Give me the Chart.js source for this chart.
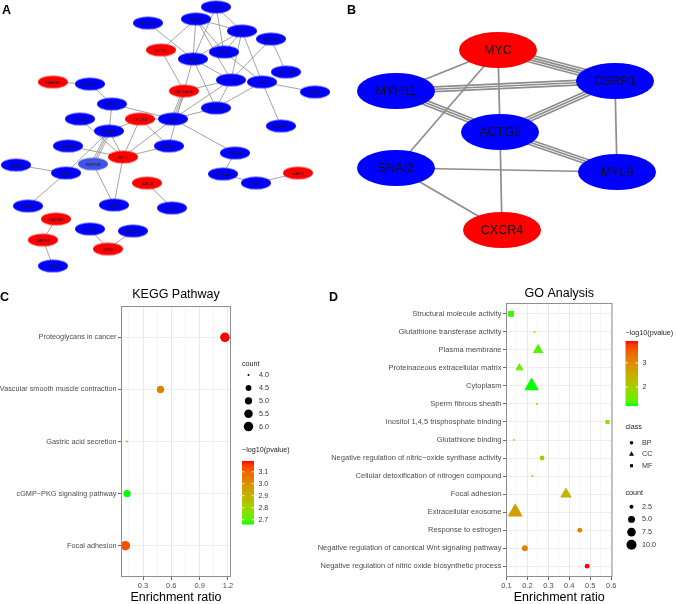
<!DOCTYPE html>
<html>
<head>
<meta charset="utf-8">
<script src="https://cdn.jsdelivr.net/npm/chart.js@4.4.1/dist/chart.umd.min.js"></script>
<style>
  html, body { margin: 0; padding: 0; background: #fff; }
  body { position: relative; width: 676px; height: 604px; overflow: hidden; font-family: "Liberation Sans", Arial, sans-serif; }
  canvas { position: absolute; }
  .tag { position: absolute; font-weight: bold; font-size: 12.5px; line-height: 1; color: #000; }
</style>
</head>
<body>
<canvas id="netA" width="340" height="285" style="left:0;top:0"></canvas>
<canvas id="netB" width="336" height="285" style="left:340px;top:0"></canvas>
<canvas id="kegg" width="340" height="319" style="left:0;top:285px"></canvas>
<canvas id="go" width="376" height="319" style="left:300px;top:285px"></canvas>
<div class="tag" style="left:2px;top:4px">A</div>
<div class="tag" style="left:347px;top:4px">B</div>
<div class="tag" style="left:0;top:291px">C</div>
<div class="tag" style="left:329px;top:291px">D</div>
<script>
// ---------- data ----------
// panel A: PPI network (layout units)
const netANames = ['CSRP1','ACTG2','SPOCK3','MYL9','ATP2B4','MYOC','MYH11','MYLK','ATP1A2','ITPR1',
  'FLNC','FHL1','BAMBI','TGFBR3','CACNA1D','GPC3','PRKCA','TNS1','CXCR4','CAV1',
  'HSPB6','SNAI2','GSTM3','NCAM1','MYC','PTGIS','LAMB3','WNT5B','KRT14','PPP1R3C',
  'UAP1','AGL','MAOA','KRT15','DKK3','AOC3','CADM1','PCP4','GPRC5B','DAPK1','SIM2','RPRM'];
const netAX = [216,196,148,242,271,161,224,193,286,231,262,315,53,90,184,112,216,80,140,173,
  281,109,68,169,123,235,16,93,66,223,298,256,147,28,114,172,56,90,133,43,108,53];
const netAY = [7,19,23,31,39,50,52,59,72,80,82,92,82,84,91,104,108,119,119,119,
  126,131,146,146,157,153,165,164,173,174,173,183,183,206,205,208,219,229,231,240,249,266];
const netARed = ['MYOC','BAMBI','CACNA1D','CXCR4','MYC','MAOA','UAP1','CADM1','DAPK1','SIM2'];
const netALight = ['WNT5B'];
const netAEdges = [
  ['SPOCK3','MYLK'],['ACTG2','MYOC'],['ACTG2','MYLK'],['ACTG2','MYH11'],['ACTG2','MYL9'],['ACTG2','ITPR1'],
  ['CSRP1','MYL9'],['CSRP1','MYH11'],['CSRP1','MYLK'],['MYL9','MYLK'],['MYL9','MYH11'],['MYL9','FLNC'],
  ['MYL9','ITPR1'],['ATP2B4','ITPR1'],['ATP2B4','ATP1A2'],['MYH11','FLNC'],['MYLK','ITPR1'],['MYLK','PRKCA'],
  ['MYLK','CACNA1D'],['MYOC','CACNA1D'],['ITPR1','CACNA1D'],['ITPR1','PRKCA'],['ITPR1','CAV1'],['FLNC','FHL1'],
  ['FLNC','HSPB6'],['FLNC','PRKCA'],['CACNA1D','CAV1',3],['CACNA1D','NCAM1'],['CAV1','PRKCA'],['CAV1','CXCR4'],
  ['CAV1','GPC3'],['CAV1','MYC'],['CAV1','PTGIS'],['BAMBI','TGFBR3'],['TGFBR3','GPC3'],['GPC3','SNAI2'],
  ['TNS1','MYC'],['SNAI2','CXCR4'],['SNAI2','MYC'],['SNAI2','WNT5B',3],['SNAI2','KRT14'],['CXCR4','NCAM1'],
  ['CXCR4','MYC'],['GSTM3','MYC'],['MYC','NCAM1'],['MYC','DKK3'],['LAMB3','KRT14'],['KRT14','KRT15'],
  ['WNT5B','DKK3'],['PTGIS','PPP1R3C'],['PPP1R3C','AGL'],['AGL','UAP1'],['MAOA','AOC3'],['CADM1','DAPK1'],
  ['DAPK1','RPRM'],['PCP4','SIM2'],['GPRC5B','SIM2']];

// panel B: hub genes
const netBNames = ['MYC','MYH11','CSRP1','ACTG2','SNAI2','MYL9','CXCR4'];
const netBX = [498,396,615,500,396,617,502];
const netBY = [50,91,81,132,168,172,230];
const netBRed = ['MYC','CXCR4'];
const netBEdges = [['MYC','CSRP1',4],['MYH11','CSRP1',3],['MYH11','MYC'],['MYC','ACTG2'],['MYC','SNAI2'],
  ['MYH11','ACTG2',3],['ACTG2','CSRP1',3],['CSRP1','MYL9'],['ACTG2','MYL9',3],['SNAI2','MYL9'],
  ['SNAI2','CXCR4'],['ACTG2','CXCR4']];

// panel C: KEGG
const keggTerms = ['Proteoglycans in cancer','Vascular smooth muscle contraction','Gastric acid secretion',
  'cGMP\u2212PKG signaling pathway','Focal adhesion'];
const keggRatio = [1.168, 0.485, 0.131, 0.131, 0.113];
const keggCount = [6, 5, 4, 5, 6];
const keggLogP = [3.19, 3.04, 2.7, 2.66, 3.13];
const keggXTicks = [0.3, 0.6, 0.9, 1.2];
const keggCountBreaks = [4.0, 4.5, 5.0, 5.5, 6.0];
const keggColorBreaks = [2.7, 2.8, 2.9, 3.0, 3.1];

// panel D: GO
const goTerms = ['Structural molecule activity','Glutathione transferase activity','Plasma membrane',
  'Proteinaceous extracellular matrix','Cytoplasm','Sperm fibrous sheath','Inositol 1,4,5 trisphosphate binding',
  'Glutathione binding','Negative regulation of nitric\u2212oxide synthase activity',
  'Cellular detoxification of nitrogen compound','Focal adhesion','Extracellular exosome','Response to estrogen',
  'Negative regulation of canonical Wnt signaling pathway','Negative regulation of nitric oxide biosynthetic process'];
const goClass = ['MF','MF','CC','CC','CC','CC','MF','MF','BP','BP','CC','CC','BP','BP','BP'];
const goRatio = [0.122,0.234,0.251,0.162,0.22,0.246,0.582,0.136,0.27,0.224,0.384,0.142,0.45,0.188,0.485];
const goCount = [5,2,6,4,11,2,3,2,3,2,7,12,3,4,3];
const goLogP = [1.3,1.85,1.4,1.5,1.22,2.0,1.75,2.05,2.15,2.2,2.45,2.75,3.15,3.05,3.9];
const goXTicks = [0.1, 0.2, 0.3, 0.4, 0.5, 0.6];
const goCountBreaks = [2.5, 5.0, 7.5, 10.0];
const goColorBreaks = [2, 3];
const classNames = ['BP','CC','MF'];

// ---------- helpers ----------
Chart.defaults.font.family = '"Liberation Sans", Arial, Helvetica, sans-serif';
Chart.defaults.color = '#4d4d4d';
const FONT = '"Liberation Sans", Arial, sans-serif';

// green -> red in CIELAB like ggplot's scale_colour_gradient
function toLab(c) {
  const [r, g, b] = c.map(v => { v /= 255; return v <= 0.04045 ? v / 12.92 : Math.pow((v + 0.055) / 1.055, 2.4); });
  const X = (0.4124564 * r + 0.3575761 * g + 0.1804375 * b) / 0.95047;
  const Y = 0.2126729 * r + 0.7151522 * g + 0.0721750 * b;
  const Z = (0.0193339 * r + 0.1191920 * g + 0.9503041 * b) / 1.08883;
  const f = t => t > 216 / 24389 ? Math.cbrt(t) : (24389 / 27 * t + 16) / 116;
  return [116 * f(Y) - 16, 500 * (f(X) - f(Y)), 200 * (f(Y) - f(Z))];
}
function fromLab([L, a, b]) {
  const fy = (L + 16) / 116, fx = fy + a / 500, fz = fy - b / 200;
  const fi = t => t * t * t > 216 / 24389 ? t * t * t : (116 * t - 16) / (24389 / 27);
  const X = fi(fx) * 0.95047, Y = fi(fy), Z = fi(fz) * 1.08883;
  return [3.2404542 * X - 1.5371385 * Y - 0.4985314 * Z,
    -0.9692660 * X + 1.8760108 * Y + 0.0415560 * Z,
    0.0556434 * X - 0.2040259 * Y + 1.0572252 * Z].map(v => {
      v = v <= 0.0031308 ? 12.92 * v : 1.055 * Math.pow(v, 1 / 2.4) - 0.055;
      return Math.round(Math.min(1, Math.max(0, v)) * 255);
    });
}
const LOW = toLab([0, 255, 0]), HIGH = toLab([255, 0, 0]);
function ramp(t) {
  t = Math.min(1, Math.max(0, t));
  const c = fromLab(LOW.map((v, i) => v + (HIGH[i] - v) * t));
  return 'rgb(' + c.join(',') + ')';
}

function ellipseImg(rx, ry, fill) {
  const c = document.createElement('canvas');
  c.width = Math.ceil(rx * 2 + 2); c.height = Math.ceil(ry * 2 + 2);
  const g = c.getContext('2d');
  g.fillStyle = fill;
  g.beginPath();
  g.ellipse(c.width / 2, c.height / 2, rx, ry, 0, 0, Math.PI * 2);
  g.fill();
  return c;
}

function networkChart(id, names, xs, ys, edges, red, light, xr, yr, look) {
  const imgRed = ellipseImg(look.rx, look.ry, '#ff0000');
  const imgBlue = ellipseImg(look.rx, look.ry, '#0000ff');
  const imgLight = ellipseImg(look.rx, look.ry, '#4152e6');
  const edgePlugin = {
    id: 'edges',
    beforeDatasetsDraw(chart) {
      const { ctx, scales: { x, y } } = chart;
      ctx.save();
      ctx.strokeStyle = look.edgeColor;
      ctx.lineWidth = look.edgeWidth;
      edges.forEach(e => {
        const i = names.indexOf(e[0]), j = names.indexOf(e[1]), k = e[2] || 1;
        const x1 = x.getPixelForValue(xs[i]), y1 = y.getPixelForValue(ys[i]);
        const x2 = x.getPixelForValue(xs[j]), y2 = y.getPixelForValue(ys[j]);
        const len = Math.hypot(x2 - x1, y2 - y1);
        const nx = -(y2 - y1) / len, ny = (x2 - x1) / len;
        for (let m = 0; m < k; m++) {
          const off = (m - (k - 1) / 2) * look.gap;
          ctx.beginPath();
          ctx.moveTo(x1 + nx * off, y1 + ny * off);
          ctx.lineTo(x2 + nx * off, y2 + ny * off);
          ctx.stroke();
        }
      });
      ctx.restore();
    }
  };
  const labelPlugin = {
    id: 'nodeLabels',
    afterDatasetsDraw(chart) {
      const ctx = chart.ctx;
      ctx.save();
      ctx.font = look.font;
      ctx.fillStyle = look.textColor;
      ctx.textAlign = 'center';
      ctx.textBaseline = 'middle';
      chart.getDatasetMeta(0).data.forEach((pt, i) => ctx.fillText(names[i], pt.x, pt.y + 0.5));
      ctx.restore();
    }
  };
  return new Chart(document.getElementById(id), {
    type: 'scatter',
    data: {
      datasets: [{
        data: names.map((n, i) => ({ x: xs[i], y: ys[i] })),
        pointStyle: names.map(n => red.includes(n) ? imgRed : light.includes(n) ? imgLight : imgBlue),
        pointRadius: look.rx,
        pointHoverRadius: look.rx,
        clip: false
      }]
    },
    options: {
      responsive: false,
      animation: false,
      events: [],
      layout: { padding: 0, autoPadding: false },
      plugins: { legend: { display: false }, tooltip: { enabled: false } },
      scales: {
        x: { display: false, min: xr[0], max: xr[1] },
        y: { display: false, min: yr[0], max: yr[1], reverse: true }
      }
    },
    plugins: [edgePlugin, labelPlugin]
  });
}

networkChart('netA', netANames, netAX, netAY, netAEdges, netARed, netALight, [0, 340], [0, 285],
  { rx: 15, ry: 6.3, edgeColor: '#9a9a9a', edgeWidth: 0.9, gap: 1.6, font: '4.3px ' + FONT, textColor: '#1a1a1a' });
networkChart('netB', netBNames, netBX, netBY, netBEdges, netBRed, [], [340, 676], [0, 285],
  { rx: 39, ry: 18, edgeColor: '#8d8d8d', edgeWidth: 1.7, gap: 2.4, font: '12.5px ' + FONT, textColor: '#111' });

// ---------- dot plots ----------
function sizeScale(values, dmin, dmax) {
  const lo = Math.min(...values), hi = Math.max(...values);
  return v => dmin + (dmax - dmin) * Math.sqrt(Math.max(0, v - lo) / (hi - lo));
}
function colorScale(values) {
  const lo = Math.min(...values), hi = Math.max(...values);
  return { lo, hi, fn: v => ramp((v - lo) / (hi - lo)) };
}
const near = (a, list) => list.some(b => Math.abs(a - b) < 1e-6);

function drawSymbol(ctx, shape, x, y, r) {
  ctx.beginPath();
  if (shape === 'triangle') {
    for (let k = 0; k < 3; k++) {
      const a = k * 2 * Math.PI / 3;
      ctx[k ? 'lineTo' : 'moveTo'](x + Math.sin(a) * r, y - Math.cos(a) * r);
    }
    ctx.closePath();
  } else if (shape === 'rect') {
    const s = r * Math.SQRT1_2;
    ctx.rect(x - s, y - s, 2 * s, 2 * s);
  } else {
    ctx.arc(x, y, r, 0, Math.PI * 2);
  }
  ctx.fill();
}

function colorBar(ctx, x, top, w, h, cs, breaks) {
  const grad = ctx.createLinearGradient(0, top + h, 0, top);
  for (let s = 0; s <= 20; s++) grad.addColorStop(s / 20, ramp(s / 20));
  ctx.fillStyle = grad;
  ctx.fillRect(x, top, w, h);
  ctx.strokeStyle = '#fff';
  ctx.lineWidth = 0.8;
  ctx.fillStyle = '#333';
  ctx.textAlign = 'left';
  breaks.forEach(b => {
    const yy = top + h - (b - cs.lo) / (cs.hi - cs.lo) * h;
    ctx.beginPath();
    ctx.moveTo(x, yy); ctx.lineTo(x + w * 0.2, yy);
    ctx.moveTo(x + w, yy); ctx.lineTo(x + w * 0.8, yy);
    ctx.stroke();
    ctx.fillText(Number.isInteger(b) && breaks.length < 3 ? String(b) : b.toFixed(1), x + w + 4.5, yy);
  });
}

function dotPlot(id, s) {
  const n = s.terms.length;
  const minors = s.majors.slice(0, -1).map((v, i) => (v + s.majors[i + 1]) / 2);
  if (s.majors[0] - (s.majors[1] - s.majors[0]) / 2 > s.xMin) minors.unshift(s.majors[0] - (s.majors[1] - s.majors[0]) / 2);
  const xTickVals = s.majors.concat(minors).sort((a, b) => a - b);

  const framePlugin = {
    id: 'frame',
    afterDatasetsDraw(chart) {
      const { ctx, chartArea: a } = chart;
      ctx.save();
      ctx.strokeStyle = '#8f8f8f';
      ctx.lineWidth = 1;
      ctx.strokeRect(a.left + 0.5, a.top + 0.5, a.right - a.left - 1, a.bottom - a.top - 1);
      ctx.restore();
    }
  };
  const legendPlugin = {
    id: 'sideLegend',
    afterDraw(chart) {
      const ctx = chart.ctx;
      ctx.save();
      ctx.textBaseline = 'middle';
      s.legend(ctx, chart.chartArea.right);
      ctx.restore();
    }
  };

  return new Chart(document.getElementById(id), {
    type: 'scatter',
    data: {
      datasets: [{
        data: s.terms.map((t, i) => ({ x: s.ratio[i], y: i })),
        pointStyle: s.terms.map((t, i) => s.shape(i)),
        pointRadius: s.terms.map((t, i) => s.radius(i)),
        backgroundColor: s.terms.map((t, i) => s.color(i)),
        borderWidth: 0
      }]
    },
    options: {
      responsive: false,
      animation: false,
      events: [],
      layout: { padding: { left: 0, right: s.padRight, top: 0, bottom: 0 } },
      plugins: {
        legend: { display: false },
        tooltip: { enabled: false },
        title: {
          display: true, text: s.title, fullSize: false, color: '#000',
          font: { size: 12.5, weight: 'normal', lineHeight: 1.2 },
          padding: s.titlePad
        }
      },
      scales: {
        x: {
          type: 'linear', min: s.xMin, max: s.xMax,
          afterBuildTicks: sc => { sc.ticks = xTickVals.map(v => ({ value: v })); },
          afterFit: sc => { sc.height = 27; },
          ticks: {
            autoSkip: false, maxRotation: 0, padding: 1, color: '#4d4d4d', font: { size: 7.5 },
            callback: v => near(v, s.majors) ? v.toFixed(1) : ''
          },
          grid: {
            color: c => c.tick && near(c.tick.value, s.majors) ? '#e6e6e6' : '#f0f0f0',
            lineWidth: c => c.tick && near(c.tick.value, s.majors) ? 0.9 : 0.6,
            tickColor: c => c.tick && near(c.tick.value, s.majors) ? '#444' : 'rgba(0,0,0,0)',
            tickLength: 3, tickWidth: 0.8
          },
          border: { display: false },
          title: {
            display: true, text: 'Enrichment ratio', color: '#000',
            font: { size: 12.5, lineHeight: 1 }, padding: { top: 0, bottom: 0 }
          }
        },
        y: {
          type: 'linear', reverse: true, min: -0.6, max: n - 0.4,
          afterBuildTicks: sc => { sc.ticks = s.terms.map((t, i) => ({ value: i })); },
          afterFit: sc => { sc.width = s.axisWidth; },
          ticks: {
            autoSkip: false, padding: 1.5, color: '#4d4d4d', font: { size: s.labelSize },
            callback: v => s.terms[v] !== undefined ? s.terms[v] : ''
          },
          grid: { color: '#ebebeb', lineWidth: 0.9, tickColor: '#444', tickLength: 3, tickWidth: 0.8 },
          border: { display: false }
        }
      }
    },
    plugins: [framePlugin, legendPlugin]
  });
}

// C: KEGG pathway
const keggSize = sizeScale(keggCount, 2, 9.5);
const keggCol = colorScale(keggLogP);
dotPlot('kegg', {
  terms: keggTerms, ratio: keggRatio, title: 'KEGG Pathway', labelSize: 7.3,
  xMin: 0.067, xMax: 1.232, majors: keggXTicks,
  axisWidth: 121, padRight: 109, titlePad: { top: 2.5, bottom: 3.5 },
  shape: () => 'circle',
  radius: i => keggSize(keggCount[i]) / 2,
  color: i => keggCol.fn(keggLogP[i]),
  legend(ctx, right) {
    const x0 = right + 11;
    ctx.fillStyle = '#222';
    ctx.font = '7.2px ' + FONT;
    ctx.textAlign = 'left';
    ctx.fillText('count', x0, 79);
    keggCountBreaks.forEach((v, k) => {
      const yy = 90 + k * 12.9;
      ctx.fillStyle = '#000';
      drawSymbol(ctx, 'circle', x0 + 6.5, yy, keggSize(v) / 2);
      ctx.fillStyle = '#333';
      ctx.fillText(v.toFixed(1), x0 + 17, yy);
    });
    ctx.fillStyle = '#222';
    ctx.fillText('\u2212log10(pvalue)', x0, 165);
    ctx.font = '7px ' + FONT;
    colorBar(ctx, x0, 176, 12, 63.5, keggCol, keggColorBreaks);
  }
});

// D: GO analysis
const goSize = sizeScale(goCount, 2, 11);
const goCol = colorScale(goLogP);
const shapeOf = { BP: 'circle', CC: 'triangle', MF: 'rect' };
const shapeScale = { circle: 1, triangle: 1.6, rect: 1.2 };
dotPlot('go', {
  terms: goTerms, ratio: goRatio, title: 'GO Analysis', labelSize: 7.5,
  xMin: 0.098, xMax: 0.606, majors: goXTicks,
  axisWidth: 206, padRight: 63.5, titlePad: { top: 1.5, bottom: 1.5 },
  shape: i => shapeOf[goClass[i]],
  radius: i => goSize(goCount[i]) / 2 * shapeScale[shapeOf[goClass[i]]],
  color: i => goCol.fn(goLogP[i]),
  legend(ctx, right) {
    const x0 = right + 13;
    ctx.fillStyle = '#222';
    ctx.font = '7.2px ' + FONT;
    ctx.textAlign = 'left';
    ctx.fillText('\u2212log10(pvalue)', x0, 48);
    ctx.font = '7px ' + FONT;
    colorBar(ctx, x0, 56, 12.5, 65, goCol, goColorBreaks);
    ctx.font = '7.2px ' + FONT;
    ctx.fillStyle = '#222';
    ctx.fillText('class', x0, 142);
    classNames.forEach((c, k) => {
      const yy = 157.7 + k * 11.5;
      ctx.fillStyle = '#000';
      const sh = shapeOf[c];
      drawSymbol(ctx, sh, x0 + 6, yy, 1.8 * shapeScale[sh]);
      ctx.fillStyle = '#333';
      ctx.fillText(c, x0 + 16.5, yy);
    });
    ctx.fillStyle = '#222';
    ctx.fillText('count', x0, 208);
    goCountBreaks.forEach((v, k) => {
      const yy = 221.7 + k * 12.7;
      ctx.fillStyle = '#000';
      drawSymbol(ctx, 'circle', x0 + 6, yy, goSize(v) / 2);
      ctx.fillStyle = '#333';
      ctx.fillText(v.toFixed(1), x0 + 16.5, yy);
    });
  }
});
</script>
</body>
</html>
